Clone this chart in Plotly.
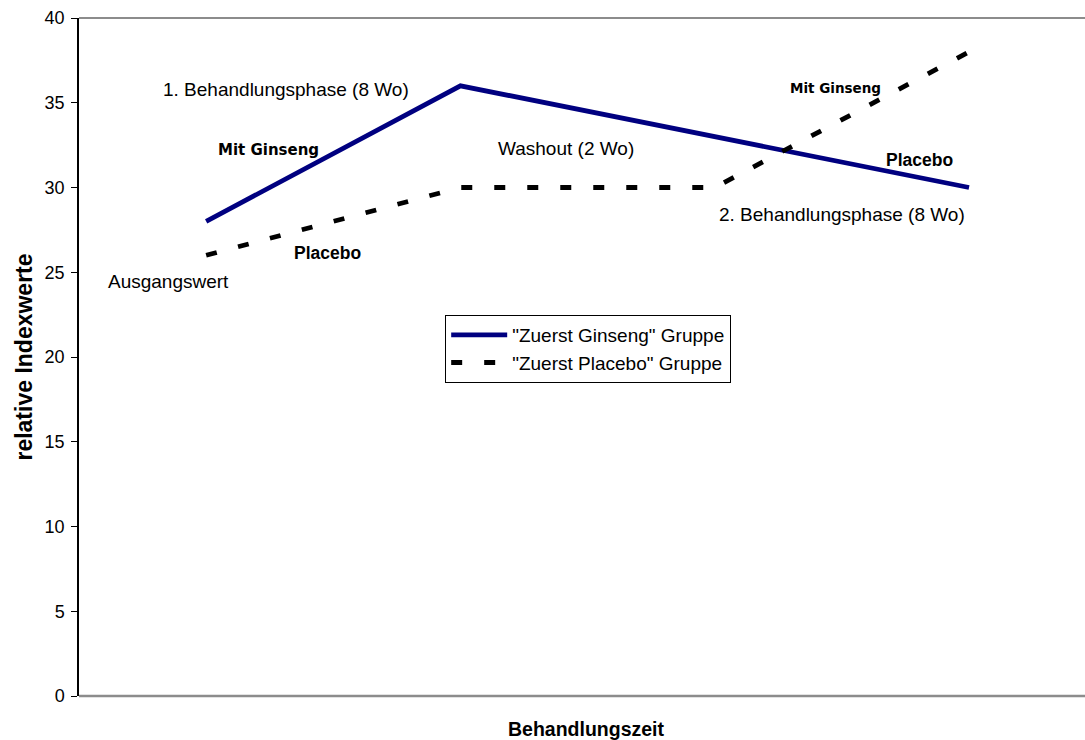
import plotly.graph_objects as go

# Measurement points along the treatment timeline
zeitpunkte = [0, 1, 2, 3]

# Relative index values per group (Ginseng group has no reading at the third point)
ginseng_zuerst = [28, 36, None, 30]
placebo_zuerst = [26, 30, 30, 38]

serien_namen = ['"Zuerst Ginseng" Gruppe', '"Zuerst Placebo" Gruppe']

y_ticks = [0, 5, 10, 15, 20, 25, 30, 35, 40]

FONT = "Liberation Sans, Arial, sans-serif"

fig = go.Figure()

fig.add_trace(go.Scatter(
    x=zeitpunkte, y=ginseng_zuerst, name=serien_namen[0],
    mode="lines", connectgaps=True,
    line=dict(color="#000080", width=4.8),
))
fig.add_trace(go.Scatter(
    x=zeitpunkte, y=placebo_zuerst, name=serien_namen[1],
    mode="lines",
    line=dict(color="#000000", width=4.8, dash="11px,22px"),
))

# Phase labels inside the plot
labels = [
    dict(x=0.315, y=35.8, text="1. Behandlungsphase (8 Wo)"),
    dict(x=1.416, y=32.33, text="Washout (2 Wo)"),
    dict(x=2.50, y=28.38, text="2. Behandlungsphase (8 Wo)"),
    dict(x=-0.149, y=24.48, text="Ausgangswert"),
]
for lb in labels:
    fig.add_annotation(
        x=lb["x"], y=lb["y"], text=lb["text"], showarrow=False,
        xanchor="center", yanchor="middle",
        font=dict(family=FONT, size=19, color="#000000"),
    )

# Treatment labels next to the line segments
treat_labels = [
    dict(x=0.245, y=32.21, text="Mit Ginseng", size=15, fam="DejaVu Sans"),
    dict(x=2.473, y=35.87, text="Mit Ginseng", size=13.5, fam="DejaVu Sans"),
    dict(x=0.476, y=26.14, text="Placebo", size=17.5, fam=FONT),
    dict(x=2.804, y=31.62, text="Placebo", size=17.5, fam=FONT),
]
for lb in treat_labels:
    fig.add_annotation(
        x=lb["x"], y=lb["y"], text="<b>" + lb["text"] + "</b>", showarrow=False,
        xanchor="center", yanchor="middle",
        font=dict(family=lb["fam"], size=lb["size"], color="#000000"),
    )

# Axis title below the plot
fig.add_annotation(
    x=0.504, xref="paper", y=-0.0487, yref="paper", text="<b>Behandlungszeit</b>",
    showarrow=False, xanchor="center", yanchor="middle",
    font=dict(family=FONT, size=19.5, color="#000000"),
)

# Plot-area frame lines (top and bottom in grey)
fig.add_shape(type="line", xref="paper", yref="paper", x0=0, x1=1, y0=1, y1=1,
              line=dict(color="#8c8c8c", width=2))
fig.add_shape(type="line", xref="paper", yref="paper", x0=0, x1=1, y0=0, y1=0,
              line=dict(color="#8c8c8c", width=2.5))

fig.update_layout(
    width=1085, height=740,
    margin=dict(l=79, r=0, t=18, b=44),
    paper_bgcolor="white", plot_bgcolor="white",
    font=dict(family=FONT, size=17, color="#000000"),
    showlegend=True,
    legend=dict(
        x=0.364, y=0.5620, xanchor="left", yanchor="top",
        bgcolor="white", bordercolor="#000000", borderwidth=1,
        font=dict(family=FONT, size=19, color="#000000"),
        itemwidth=56, tracegroupgap=0,
    ),
    xaxis=dict(
        range=[-0.5, 3.456], showticklabels=False, ticks="",
        showgrid=False, zeroline=False, showline=False, fixedrange=True,
    ),
    yaxis=dict(
        range=[0, 40], tickvals=y_ticks, ticks="outside", ticklen=6,
        tickcolor="#000000", tickwidth=1, ticklabelstandoff=3,
        showline=True, linecolor="#000000", linewidth=1.5,
        showgrid=False, zeroline=False,
        tickfont=dict(family=FONT, size=18, color="#000000"),
        title=dict(text="<b>relative Indexwerte</b>", standoff=6,
                   font=dict(family=FONT, size=23, color="#000000")),
    ),
)

fig.write_html("out.html")
